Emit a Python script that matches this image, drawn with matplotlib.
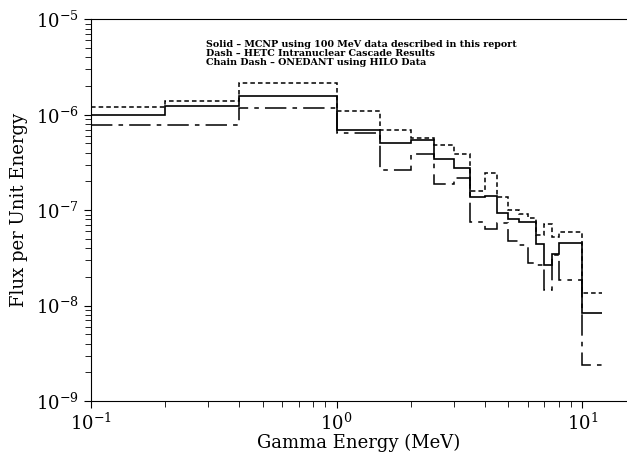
import matplotlib
matplotlib.use("Agg")
import matplotlib.pyplot as plt
import numpy as np

plt.rcParams['font.family'] = ['DejaVu Serif']
plt.rcParams['mathtext.fontset'] = 'dejavuserif'

# energy bin edges (MeV)
edges = [0.1, 0.2, 0.4, 1.0, 1.5, 2.0, 2.5, 3.0, 3.5, 4.0, 4.5, 5.0,
         5.5, 6.0, 6.5, 7.0, 7.5, 8.0, 10.0, 12.0]

# Solid - MCNP
mcnp = [1.0e-6, 1.23e-6, 1.57e-6, 6.9e-7, 5.0e-7, 5.4e-7, 3.4e-7, 2.8e-7,
        1.36e-7, 1.4e-7, 9.3e-8, 8.0e-8, 7.6e-8, 7.5e-8, 4.4e-8, 2.7e-8,
        3.5e-8, 4.5e-8, 8.3e-9]
# Dash - HETC
hetc = [1.2e-6, 1.38e-6, 2.15e-6, 1.1e-6, 6.9e-7, 5.7e-7, 4.8e-7, 3.9e-7,
        1.58e-7, 2.45e-7, 1.36e-7, 1.0e-7, 9.2e-8, 8.2e-8, 5.5e-8, 7.2e-8,
        5.3e-8, 5.9e-8, 1.35e-8]
# Chain dash - ONEDANT
onedant = [7.8e-7, 7.9e-7, 1.18e-6, 6.5e-7, 2.65e-7, 3.9e-7, 1.9e-7, 2.2e-7,
           7.6e-8, 6.3e-8, 7.4e-8, 4.8e-8, 4.3e-8, 2.8e-8, 2.7e-8, 1.45e-8,
           3.4e-8, 1.85e-8, 2.4e-9]

fig = plt.figure(figsize=(6.27, 4.59), dpi=100)
ax = fig.add_axes([0.145, 0.126, 0.855, 0.832])

ax.stairs(hetc, edges, baseline=None, color='black', lw=1.1, linestyle=(0, (3, 2)))
ax.stairs(onedant, edges, baseline=None, color='black', lw=1.1, linestyle=(0, (14, 4, 3, 4)))
ax.stairs(mcnp, edges, baseline=None, color='black', lw=1.2)

ax.set_xscale('log')
ax.set_yscale('log')
ax.set_xlim(0.1, 15.2)
ax.set_ylim(1e-9, 1e-5)

ax.spines['right'].set_visible(False)
ax.tick_params(which='both', direction='out', labelsize=13, top=False, right=False)
ax.tick_params(which='major', length=5)
ax.tick_params(which='minor', length=4)
ax.xaxis.get_offset_text().set_visible(False)
ax.yaxis.get_offset_text().set_visible(False)

ax.set_xlabel('Gamma Energy (MeV)', fontsize=13, labelpad=0)
ax.set_ylabel('Flux per Unit Energy', fontsize=13, labelpad=6)

ax.text(0.215, 0.945,
        'Solid \u2013 MCNP using 100 MeV data described in this report\n'
        'Dash \u2013 HETC Intranuclear Cascade Results\n'
        'Chain Dash \u2013 ONEDANT using HILO Data',
        transform=ax.transAxes, fontsize=6.8, fontweight='bold',
        va='top', ha='left', linespacing=0.95)

fig.savefig('out.png', dpi=100)
